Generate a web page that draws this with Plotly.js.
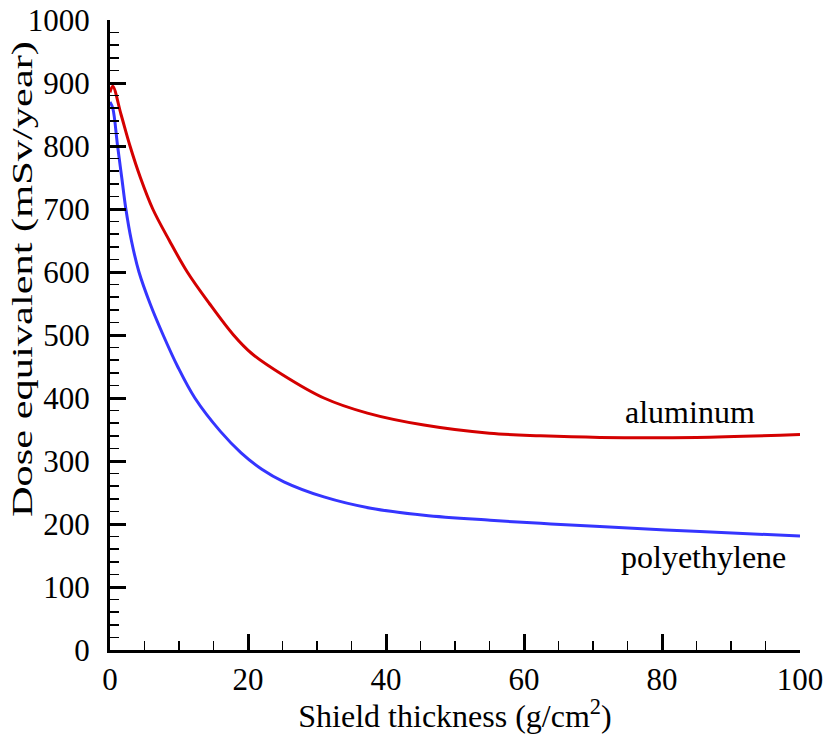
<!DOCTYPE html>
<html>
<head>
<meta charset="utf-8">
<script src="https://cdn.plot.ly/plotly-3.0.1.min.js"></script>
<style>
  html, body { margin: 0; padding: 0; background: #ffffff; }
  #chart { width: 827px; height: 734px; }
</style>
</head>
<body>
<div id="chart"></div>
<script>
// Data
const aluminumThickness = [0, 0.4, 1.6, 2.9, 4.4, 6.2, 8.6, 11.2, 14.4, 17.9, 20.5, 25, 31, 37.3, 45.5, 55, 62.4, 71, 85, 100];
const aluminumDose      = [885, 895, 850, 800, 750, 700, 650, 600, 550, 500, 471, 437, 400, 376, 357, 344, 340, 337.5, 337.5, 342];

const polyThickness = [0, 0.4, 1.1, 1.7, 2.3, 3.1, 4.2, 5.8, 7.7, 9.8, 12.3, 16, 19, 22, 25.2, 31, 37.8, 45.5, 55.1, 62.4, 71, 85.5, 100];
const polyDose      = [870, 860, 800, 750, 700, 650, 600, 550, 500, 450, 400, 347, 313, 287, 267, 243, 225, 214, 206, 201, 196, 188, 181];

const seriesNames = ["aluminum", "polyethylene"];
const xTitle = "Shield thickness (g/cm<sup>2</sup>)";
const yTitle = "Dose equivalent (mSv/year)";

const FONT = "Liberation Serif, serif";

const traces = [
  {
    x: aluminumThickness, y: aluminumDose, name: seriesNames[0],
    type: "scatter", mode: "lines",
    line: { color: "#d40000", width: 3, shape: "spline", smoothing: 1.0 }
  },
  {
    x: polyThickness, y: polyDose, name: seriesNames[1],
    type: "scatter", mode: "lines",
    line: { color: "#3535ff", width: 3, shape: "spline", smoothing: 1.0 }
  }
];

const layout = {
  width: 827, height: 734,
  margin: { l: 110, r: 27, t: 20, b: 84 },
  paper_bgcolor: "#ffffff", plot_bgcolor: "#ffffff",
  showlegend: false,
  font: { family: FONT, size: 30, color: "#000000" },
  xaxis: {
    range: [0, 100], dtick: 20, tick0: 0,
    showgrid: false, zeroline: false,
    showline: true, linecolor: "#000000", linewidth: 3,
    ticks: "inside", ticklen: 16, tickwidth: 3, tickcolor: "#000000",
    minor: { ticks: "inside", dtick: 5, ticklen: 9, tickwidth: 1.5, tickcolor: "#000000", showgrid: false },
    tickfont: { family: FONT, size: 31, color: "#000000" },
    title: { text: xTitle, font: { family: FONT, size: 32, color: "#000000" }, standoff: 2 }
  },
  yaxis: {
    range: [0, 1000], dtick: 100, tick0: 0,
    showgrid: false, zeroline: false,
    showline: true, linecolor: "#000000", linewidth: 3,
    ticks: "inside", ticklen: 16, tickwidth: 3, tickcolor: "#000000",
    minor: { ticks: "inside", dtick: 20, ticklen: 9, tickwidth: 1.5, tickcolor: "#000000", showgrid: false },
    tickfont: { family: FONT, size: 31, color: "#000000" },
    ticklabelstandoff: 11
  },
  annotations: [
    {
      text: yTitle, xref: "paper", yref: "paper", x: -0.127, y: 0.589,
      xanchor: "center", yanchor: "middle", textangle: -90, showarrow: false,
      font: { family: FONT, size: 30, color: "#000000" }
    },
    {
      text: seriesNames[0], xref: "x", yref: "y", x: 84.1, y: 378,
      xanchor: "center", yanchor: "middle", showarrow: false,
      font: { family: FONT, size: 32, color: "#000000" }
    },
    {
      text: seriesNames[1], xref: "x", yref: "y", x: 86, y: 148,
      xanchor: "center", yanchor: "middle", showarrow: false,
      font: { family: FONT, size: 32, color: "#000000" }
    }
  ]
};

Plotly.newPlot("chart", traces, layout, { displayModeBar: false, staticPlot: true }).then(function () {
  // Stretch the vertical axis title along its length, as in the reference
  const t = document.querySelector(".annotation .annotation-text");
  if (t) {
    t.setAttribute("textLength", "476");
    t.setAttribute("lengthAdjust", "spacingAndGlyphs");
  }
});
</script>
</body>
</html>
